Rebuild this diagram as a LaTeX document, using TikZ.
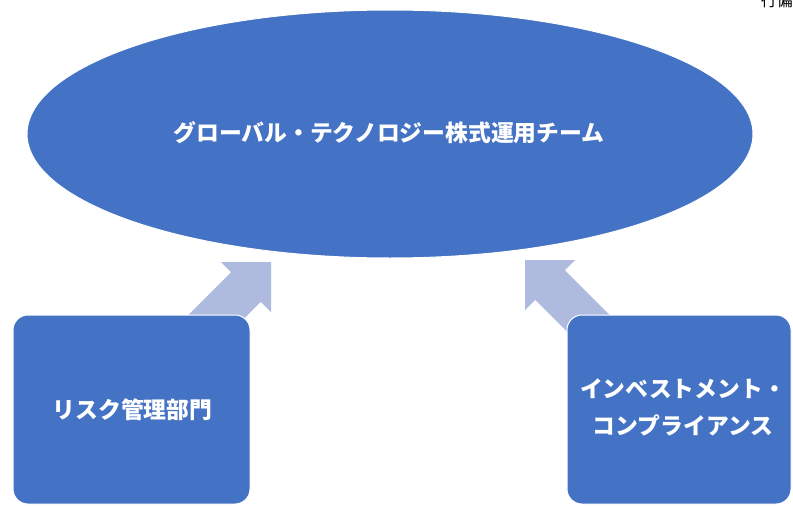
\documentclass[tikz,border=0pt]{standalone}
\usepackage{fontspec}
\setmainfont{Noto Sans CJK JP}
\usetikzlibrary{shapes.geometric,calc}
\definecolor{officeblue}{HTML}{4472C4}
\definecolor{arrowblue}{HTML}{AEBBDF}
\tikzset{
  blob/.style={ellipse, fill=officeblue, draw=white, line width=1pt, inner sep=0pt},
  card/.style={rectangle, rounded corners=15pt, fill=officeblue, draw=white, line width=1pt, inner sep=0pt},
  label/.style={text=white, font=\bfseries\fontsize{22.8}{37}\selectfont, align=center},
  blockarrow/.style={fill=arrowblue, draw=none}
}
\begin{document}
\begin{tikzpicture}[x=1pt,y=-1pt]
\useasboundingbox (0,0) rectangle (793,506);
\clip (0,0) rectangle (793,506);
% partial header text (cut off at the top, as in the source)
\node[anchor=south east, inner sep=0pt, font=\fontsize{16}{16}\selectfont] (hdr) at (793,8) {行偏};
% main ellipse
\node[blob, minimum width=726pt, minimum height=248pt] (team) at (390,134) {};
\node[label] (teamtxt) at (389,133) {グローバル・テクノロジー株式運用チーム};
% arrows (drawn beneath the boxes)
\coordinate (lt) at (271,262);
\coordinate (rt) at (525,260);
\fill[blockarrow] (lt) -- ($(lt)+(-50,0)$) -- ($(lt)+(-25-14.8,25-14.8)$)
   -- ($(lt)+(-25-14.8-71,25-14.8+71)$) -- ($(lt)+(-25+14.8-71,25+14.8+71)$)
   -- ($(lt)+(-25+14.8,25+14.8)$) -- ($(lt)+(0,50)$) -- cycle;
\fill[blockarrow] (rt) -- ($(rt)+(50,0)$) -- ($(rt)+(25+14.8,25-14.8)$)
   -- ($(rt)+(25+14.8+71,25-14.8+71)$) -- ($(rt)+(25-14.8+71,25+14.8+71)$)
   -- ($(rt)+(25-14.8,25+14.8)$) -- ($(rt)+(0,50)$) -- cycle;
% boxes
\node[card, minimum width=237pt, minimum height=189pt] (risk) at (131.5,409.5) {};
\node[label] (risktxt) at (132.5,410) {リスク管理部門};
\node[card, minimum width=224pt, minimum height=189pt] (comp) at (679,409.5) {};
\node[label] (comptxt) at (683,407) {インベストメント・\\コンプライアンス};
\end{tikzpicture}
\end{document}
